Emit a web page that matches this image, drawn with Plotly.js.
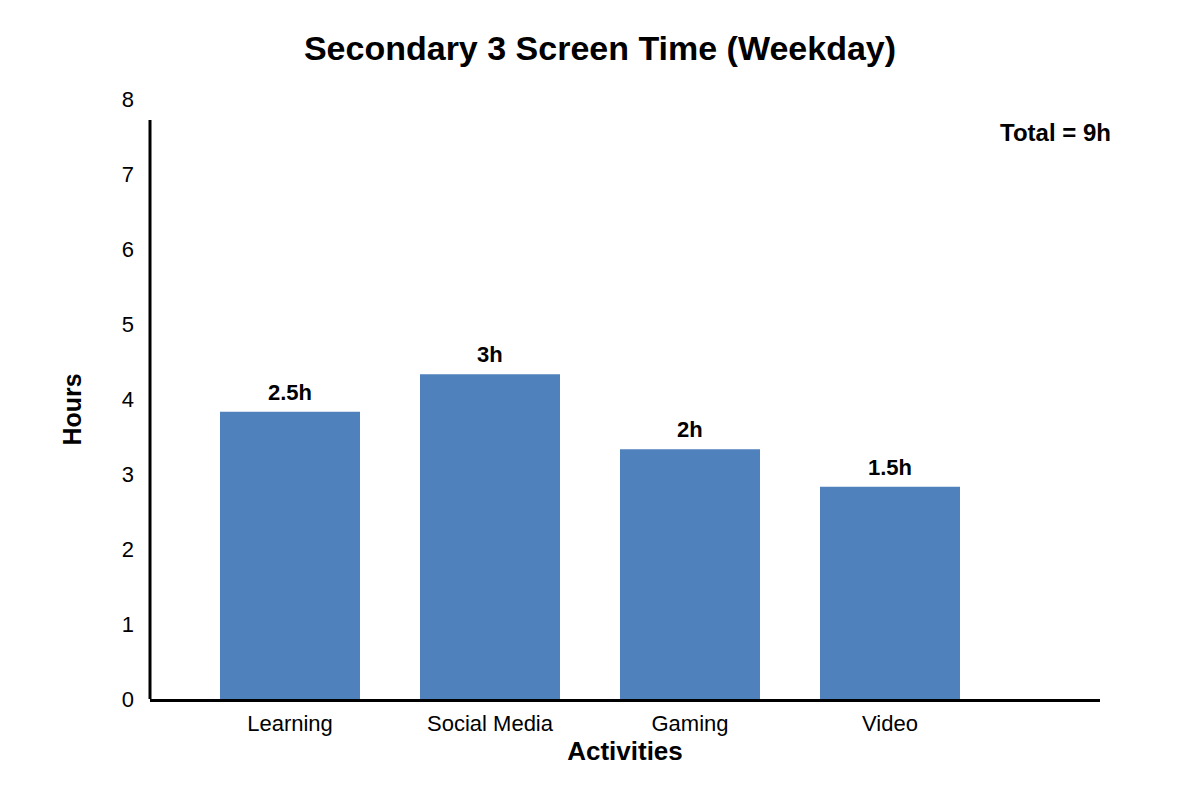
<!DOCTYPE html>
<html>
<head>
<meta charset="utf-8">
<script src="https://cdn.plot.ly/plotly-3.0.1.min.js"></script>
<style>html,body{margin:0;padding:0;background:#fff;}#chart{width:1200px;height:800px;}</style>
</head>
<body>
<div id="chart"></div>
<script>
const categories = ["Learning", "Social Media", "Gaming", "Video"];
const barHeights = [3.83, 4.33, 3.33, 2.83];
const barLabels = ["2.5h", "3h", "2h", "1.5h"];
const yTicks = [0, 1, 2, 3, 4, 5, 6, 7, 8];
const totalLabel = "Total = 9h";
const axisTop = 7.72;

const FONT = "'Liberation Sans', Arial, sans-serif";

const trace = {
  type: "bar",
  x: categories,
  y: barHeights,
  marker: {color: "#4F81BD"},
  width: 0.7,
  hoverinfo: "skip"
};

const barLabelAnnotations = categories.map((c, i) => ({
  text: "<b>" + barLabels[i] + "</b>",
  xref: "x", yref: "y",
  x: c, y: barHeights[i],
  xanchor: "center", yanchor: "bottom",
  yshift: 5,
  showarrow: false,
  font: {family: FONT, size: 22, color: "#000"}
}));

const layout = {
  width: 1200, height: 800,
  margin: {l: 150, r: 100, t: 99, b: 101},
  paper_bgcolor: "#fff", plot_bgcolor: "#fff",
  font: {family: FONT, color: "#000"},
  title: {text: "<b>Secondary 3 Screen Time (Weekday)</b>", font: {family: FONT, size: 34, color: "#000"}, x: 0.5, xanchor: "center", y: 0.94, yanchor: "middle"},
  showlegend: false,
  xaxis: {
    type: "category",
    range: [-0.7, 4.05],
    showline: true, linecolor: "#000", linewidth: 3,
    showgrid: false, zeroline: false, ticks: "",
    ticklabelstandoff: 3,
    tickfont: {family: FONT, size: 22, color: "#000"},
    title: {text: "<b>Activities</b>", font: {family: FONT, size: 26, color: "#000"}, standoff: 6}
  },
  yaxis: {
    range: [0, 8],
    tickvals: yTicks,
    showline: false, showgrid: false, zeroline: false, ticks: "",
    ticklabelstandoff: 15,
    tickfont: {family: FONT, size: 22, color: "#000"}
  },
  shapes: [{
    type: "line", xref: "paper", yref: "y",
    x0: 0, x1: 0, y0: 0, y1: axisTop,
    line: {color: "#000", width: 3}
  }],
  annotations: barLabelAnnotations.concat([
    {
      text: "<b>" + totalLabel + "</b>",
      xref: "paper", yref: "y",
      x: 1.01, y: axisTop - 0.15,
      xanchor: "right", yanchor: "middle",
      xshift: 3, yshift: -1,
      showarrow: false,
      font: {family: FONT, size: 24, color: "#000"}
    },
    {
      text: "<b>Hours</b>",
      xref: "paper", yref: "y",
      x: 0, y: axisTop / 2,
      xshift: -79, textangle: -90,
      xanchor: "center", yanchor: "middle",
      showarrow: false,
      font: {family: FONT, size: 25, color: "#000"}
    }
  ])
};

Plotly.newPlot("chart", [trace], layout, {displayModeBar: false, staticPlot: true});
</script>
</body>
</html>
